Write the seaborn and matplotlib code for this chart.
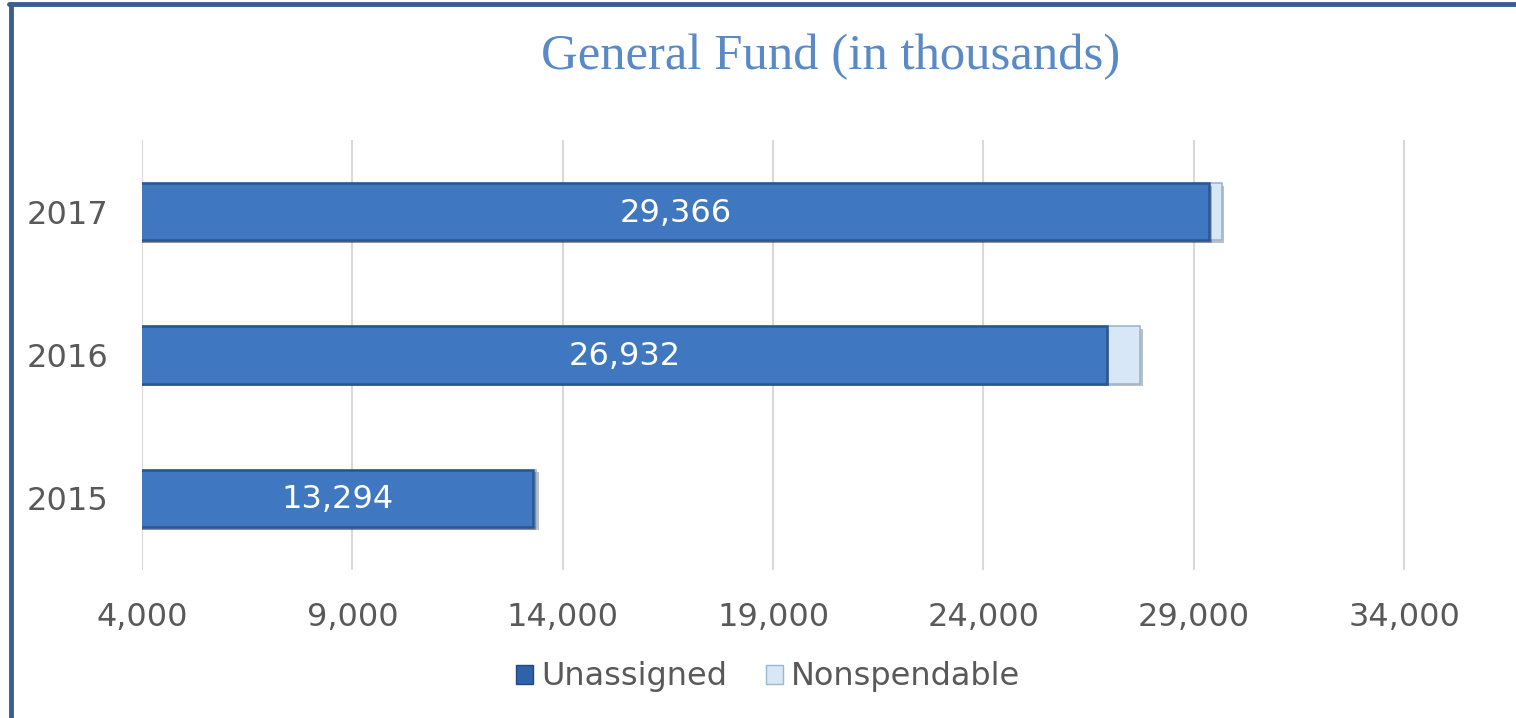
import matplotlib
matplotlib.use("Agg")
import matplotlib.pyplot as plt
import matplotlib.patheffects as pe
from matplotlib.lines import Line2D
from matplotlib.patches import Patch
import seaborn as sns
import pandas as pd

years = ["2017", "2016", "2015"]
unassigned = [29366, 26932, 13294]
nonspendable = [300, 790, 80]
series_names = ["Unassigned", "Nonspendable"]
xticks = [4000, 9000, 14000, 19000, 24000, 29000, 34000]
title = "General Fund (in thousands)"

sns.set_theme(style="white")
plt.rcParams["font.family"] = ["DejaVu Sans"]

df = pd.DataFrame({"year": years, "Unassigned": unassigned,
                   "Nonspendable": nonspendable})
df["total"] = df["Unassigned"] + df["Nonspendable"]

fig = plt.figure(figsize=(15.16, 7.18), dpi=100)
ax = fig.add_axes([142 / 1516, 1 - 570 / 718, 1 - 142 / 1516, 430 / 718])

dark = "#3F77C0"
light = "#D8E7F6"
shadow = [pe.SimplePatchShadow(offset=(2, -2), shadow_rgbFace="#000000", alpha=0.25), pe.Normal()]

sns.barplot(data=df, x="total", y="year", order=years, orient="h",
            color=light, edgecolor="#9DB5CF", linewidth=1.2, width=0.40,
            ax=ax, zorder=3)
n1 = len(ax.patches)
sns.barplot(data=df, x="Unassigned", y="year", order=years, orient="h",
            color=dark, edgecolor="#2A5793", linewidth=1.8, width=0.40,
            ax=ax, zorder=4)
for p in ax.patches:
    p.set_path_effects(shadow)
    p.set_alpha(1)
for p in ax.patches[:n1]:
    p.set_facecolor(light)
for p in ax.patches[n1:]:
    p.set_facecolor(dark)

xmin = 4000
xmax = xmin + (1516 - 142) / 1262 * 30000
ax.set_xlim(xmin, xmax)
ax.set_ylim(2.5, -0.5)
ax.set_xticks(xticks)
ax.set_xticklabels([f"{v:,}" for v in xticks])
ax.tick_params(axis="x", length=0, pad=23, labelsize=23, labelcolor="#595959")
ax.tick_params(axis="y", length=0, pad=24, labelsize=23, labelcolor="#595959")
ax.set_xlabel("")
ax.set_ylabel("")
ax.grid(axis="x", color="#D9D9D9", linewidth=1.5, zorder=0)
ax.set_axisbelow(True)
for s in ax.spines.values():
    s.set_visible(False)

for i, v in enumerate(unassigned):
    ax.text((xmin + v) / 2, i + 0.01, f"{v:,}", ha="center", va="center",
            color="white", fontsize=23, zorder=6)

fig.text(831 / 1516, 1 - 57 / 718, title, ha="center", va="center",
         fontsize=36.5, color="#5A8AC6", family="Liberation Serif")

handles = [Patch(facecolor="#2F62A8", edgecolor="#1F4A80"),
           Patch(facecolor=light, edgecolor="#9DB5CF")]
fig.legend(handles, series_names, loc="center", bbox_to_anchor=(768 / 1516, 1 - 677 / 718),
           ncol=2, frameon=False, fontsize=23, labelcolor="#595959",
           handlelength=0.55, handleheight=0.55, handletextpad=0.25, columnspacing=1.2)

# frame border (left and top)
fig.add_artist(Line2D([11 / 1516, 11 / 1516], [0, 1 - 4 / 718], transform=fig.transFigure,
                      color="#3A5F8E", linewidth=3.5))
fig.add_artist(Line2D([9 / 1516, 1], [1 - 4 / 718, 1 - 4 / 718], transform=fig.transFigure,
                      color="#3A5F8E", linewidth=3.5))

fig.savefig("out.png", dpi=100)
